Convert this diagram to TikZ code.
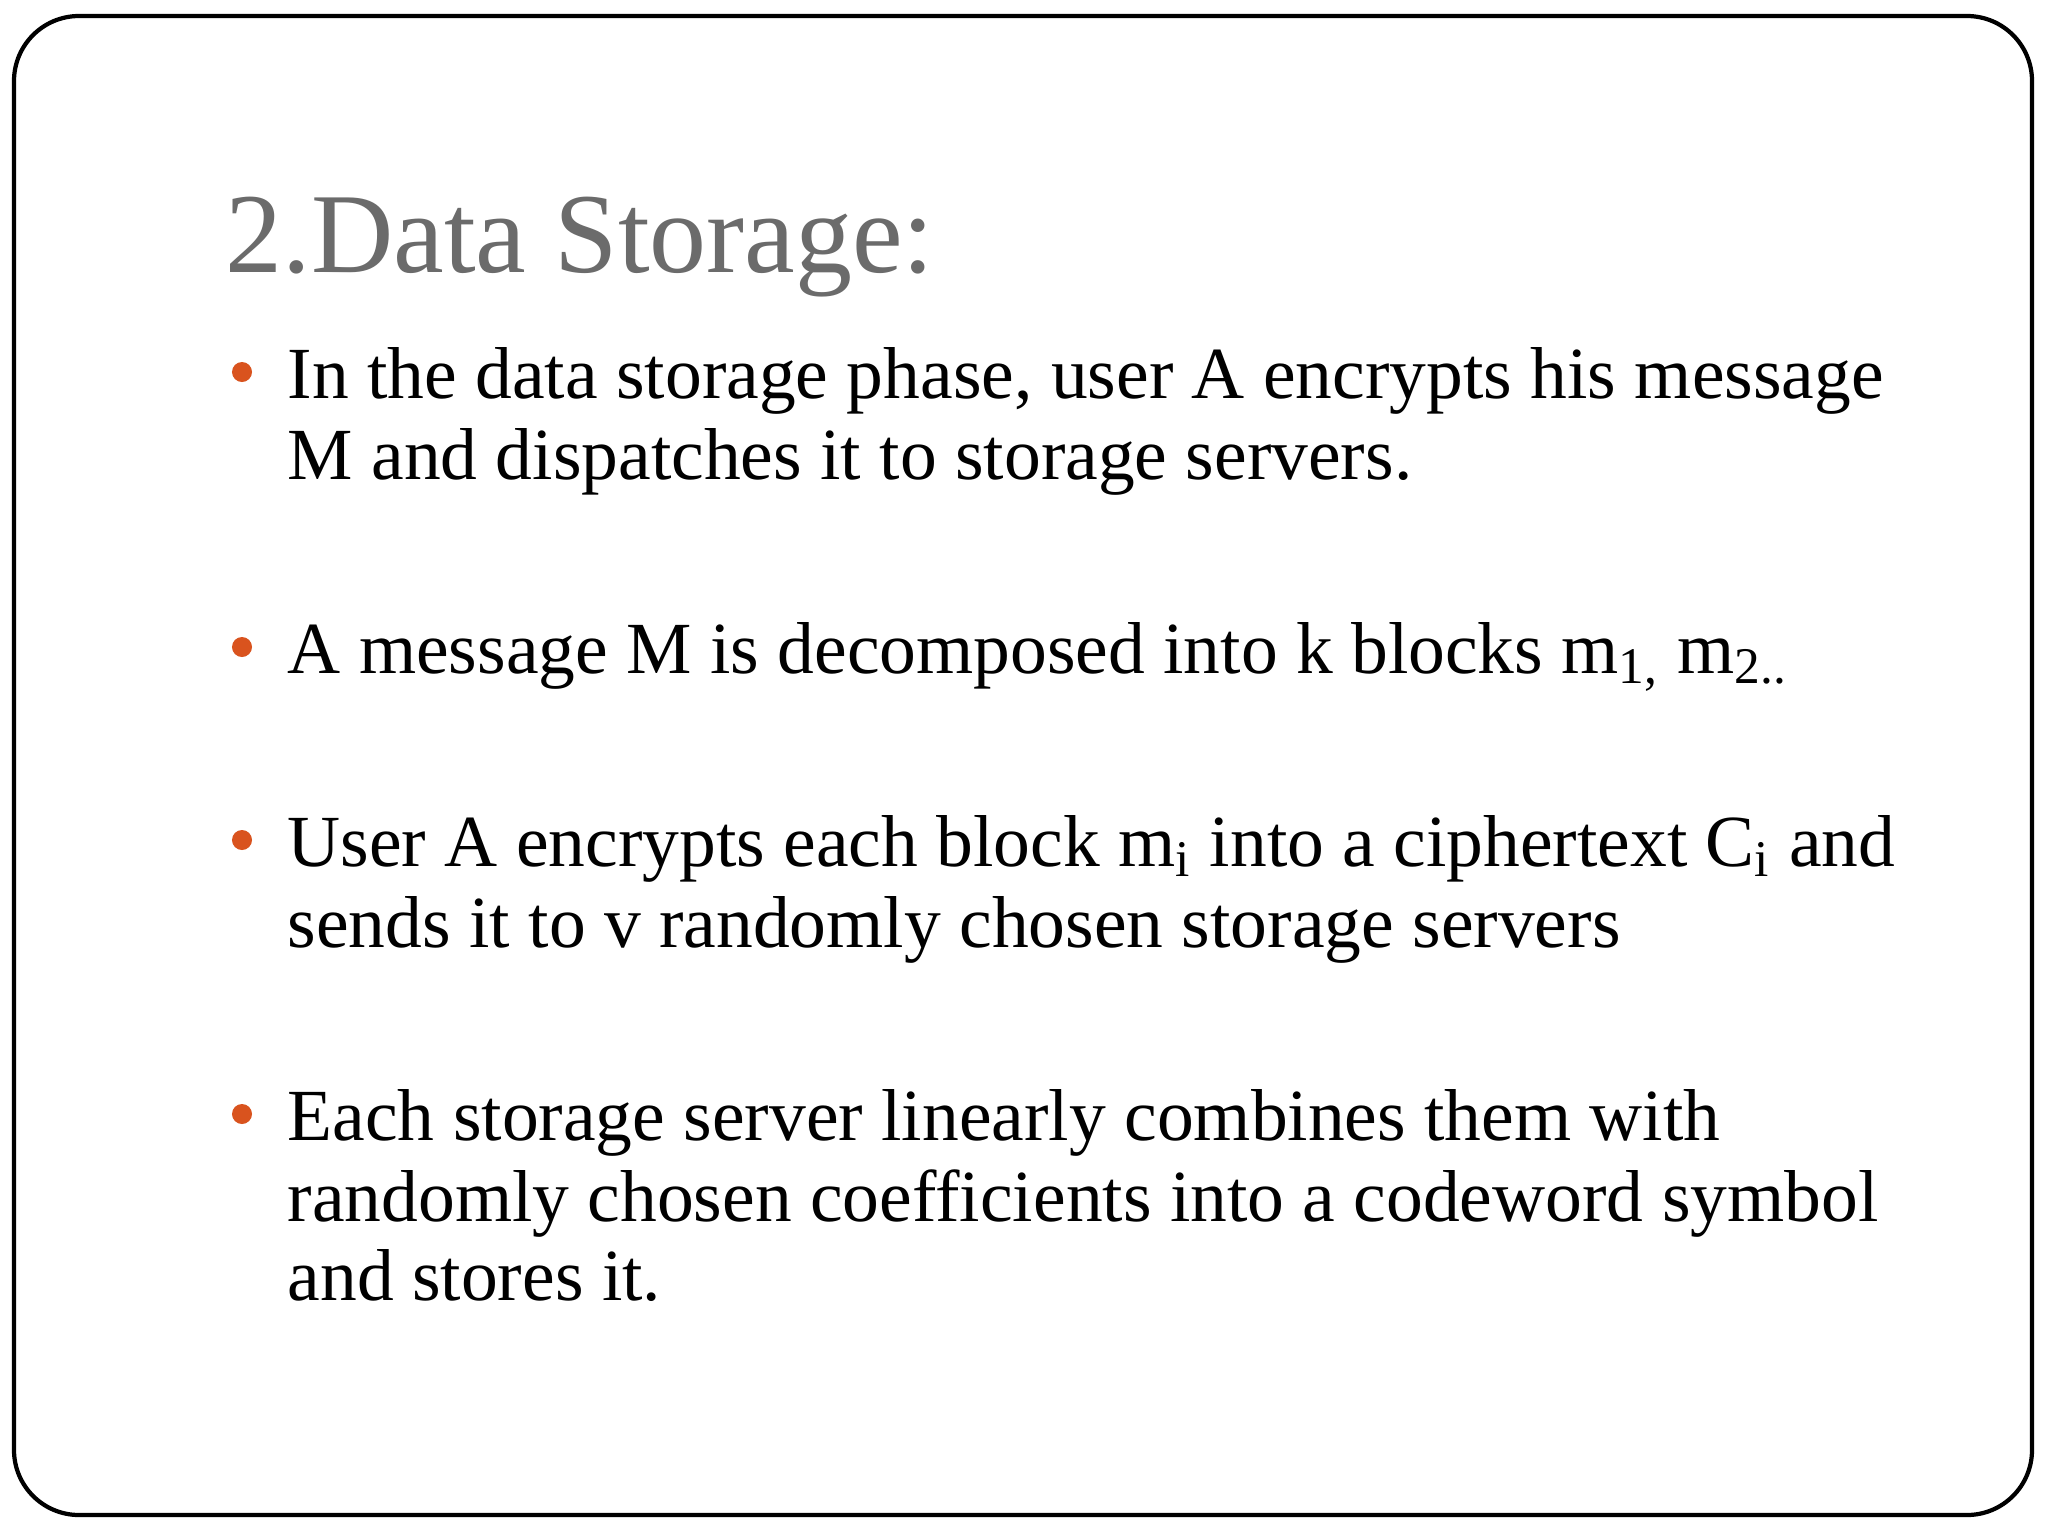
\documentclass[tikz,border=0pt]{standalone}
\usepackage{fontspec}
\setmainfont{Liberation Serif}
\definecolor{titlegray}{HTML}{6B6B6B}
\definecolor{bulletorange}{HTML}{D9531E}
\begin{document}
\begin{tikzpicture}[x=0.01cm,y=-0.01cm,
  body/.style={anchor=base west,inner sep=0pt,font=\fontsize{20.9}{23}\selectfont},
  dot/.style={circle,fill=bulletorange,inner sep=0pt,minimum size=0.2cm}]
\useasboundingbox (0,0) rectangle (2048,1536);
\fill[white] (0,0) rectangle (2048,1536);
\draw[line width=1.2pt,rounded corners=0.65cm] (14,16) rectangle (2032,1515);
\node[anchor=base west,inner sep=0pt,text=titlegray,font=\fontsize{32.4}{36}\selectfont] (title) at (225,272) {2.Data Storage:};
\node[dot] (d1) at (242,372) {};
\node[body] (b1a) at (287,398) {In the data storage phase, user A encrypts his message};
\node[body] (b1b) at (287,479) {M and dispatches it to storage servers.};
\node[dot] (d2) at (242,647) {};
\node[body] (b2) at (287,673) {A message M is decomposed into k blocks m\textsubscript{1,} m\textsubscript{2..}};
\node[dot] (d3) at (242,840) {};
\node[body] (b3a) at (287,866) {User A encrypts each block m\textsubscript{i} into a ciphertext C\textsubscript{i} and};
\node[body] (b3b) at (287,947) {sends it to v randomly chosen storage servers};
\node[dot] (d4) at (242,1114) {};
\node[body] (b4a) at (287,1140) {Each storage server linearly combines them with};
\node[body] (b4b) at (287,1221) {randomly chosen coefficients into a codeword symbol};
\node[body] (b4c) at (287,1300) {and stores it.};
\end{tikzpicture}
\end{document}
